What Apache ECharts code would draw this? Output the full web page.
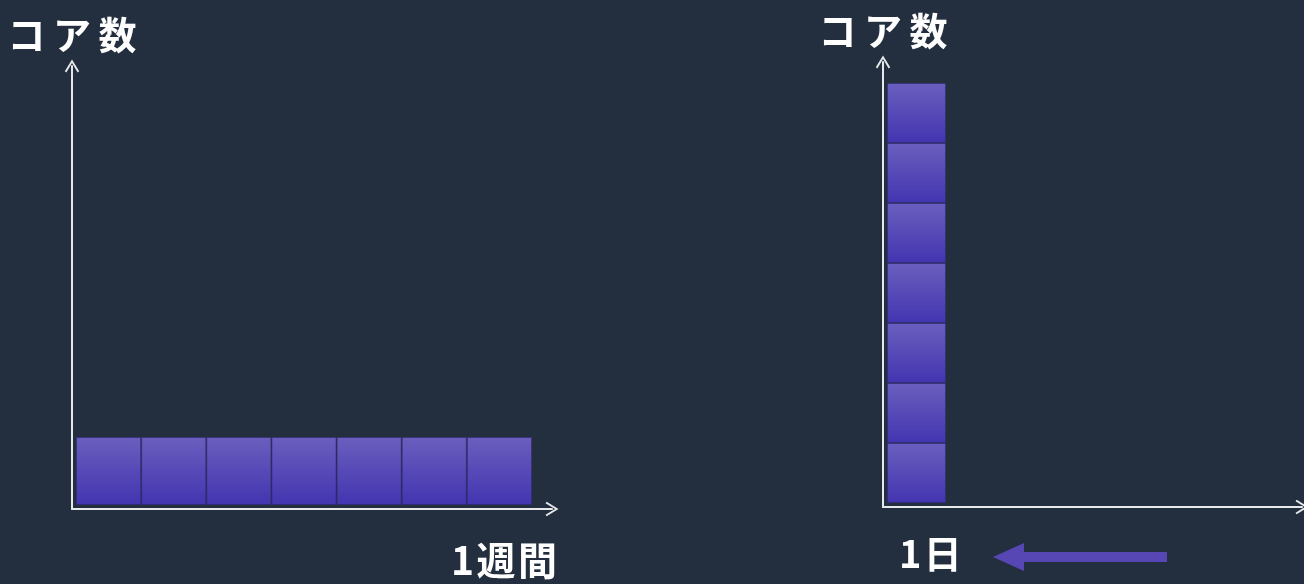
<!DOCTYPE html>
<html><head><meta charset="utf-8">
<script src="https://cdn.jsdelivr.net/npm/echarts@6/dist/echarts.min.js"></script>
<style>html,body{margin:0;padding:0;background:#232f3e}#c{width:1304px;height:584px}</style>
</head><body><div id="c"></div>
<script>
// Data
var weekDays = ['1', '2', '3', '4', '5', '6', '7'];      // 1週間: 7日 × 1コア
var weekCores = [1, 1, 1, 1, 1, 1, 1];
var dayCategories = ['1日'];                              // 1日: 7コア
var dayCoreStacks = [[1], [1], [1], [1], [1], [1], [1]];
var yAxisName = 'コア数';
var weekLabel = '1週間';
var dayLabel = '1日';

function spaced(s, sp) { return s.split('').join(sp); }

var chev = 'path://M5,0 L10,8.2 L8.9,9 L5,2.4 L1.1,9 L0,8.2 Z';
var fontFam = '"Noto Sans CJK JP", "Noto Sans", sans-serif';
var boxFill = new echarts.graphic.LinearGradient(0, 0, 0, 1, [
  {offset: 0, color: '#6a5fbe'}, {offset: 1, color: '#4334b0'}
]);
var axisLineStyle = {color: '#e6e8ea', width: 2};

function axisPair(gi, name) {
  return [
    {type: 'value', gridIndex: gi, min: 0, max: 1, show: true,
     axisLine: {show: true, onZero: false, symbol: ['none', chev], symbolSize: [18, 13], lineStyle: axisLineStyle},
     axisTick: {show: false}, axisLabel: {show: false}, splitLine: {show: false}},
    {type: 'value', gridIndex: gi, min: 0, max: 1, show: true, name: spaced(name, '\u2009'), nameLocation: 'end', nameGap: 12,
     nameTextStyle: {color: '#ffffff', fontSize: 38, fontWeight: 'bold', fontFamily: fontFam},
     axisLine: {show: true, onZero: false, symbol: ['none', chev], symbolSize: [18, 13], lineStyle: axisLineStyle},
     axisTick: {show: false}, axisLabel: {show: false}, splitLine: {show: false}}
  ];
}
var a0 = axisPair(0, yAxisName), a1 = axisPair(1, yAxisName);

var series = [
  {type: 'bar', xAxisIndex: 2, yAxisIndex: 2, data: weekCores, barWidth: '100%',
   itemStyle: {color: boxFill, borderColor: 'rgba(50,42,120,0.6)', borderWidth: 1}}
];
dayCoreStacks.forEach(function (d) {
  series.push({type: 'bar', xAxisIndex: 3, yAxisIndex: 3, stack: 'day', data: d, barWidth: '100%',
    itemStyle: {color: boxFill, borderColor: 'rgba(50,42,120,0.6)', borderWidth: 1}});
});

var option = {
  backgroundColor: '#232f3e',
  animation: false,
  grid: [
    {left: 72, top: 66, width: 480, height: 443},
    {left: 883, top: 62, width: 419, height: 445},
    {left: 76, top: 29, width: 456, height: 476},
    {left: 887, top: 83, width: 59, height: 420}
  ],
  xAxis: [a0[0], a1[0],
    {type: 'category', gridIndex: 2, data: weekDays, show: false},
    {type: 'category', gridIndex: 3, data: dayCategories, show: false}],
  yAxis: [a0[1], a1[1],
    {type: 'value', gridIndex: 2, min: 0, max: 7, show: false},
    {type: 'value', gridIndex: 3, min: 0, max: 7, show: false}],
  series: series,
  graphic: [
    {type: 'text', left: 451, top: 541, style: {text: spaced(weekLabel, '\u200A'), fill: '#ffffff', font: 'bold 39px ' + fontFam}},
    {type: 'text', left: 899, top: 535, style: {text: spaced(dayLabel, '\u200A'), fill: '#ffffff', font: 'bold 38px ' + fontFam}},
    {type: 'polygon', shape: {points: [[993, 557], [1024, 543], [1024, 552], [1167, 552], [1167, 562], [1024, 562], [1024, 571]]},
     style: {fill: '#5647b4'}}
  ]
};
echarts.init(document.getElementById('c')).setOption(option);
</script></body></html>
